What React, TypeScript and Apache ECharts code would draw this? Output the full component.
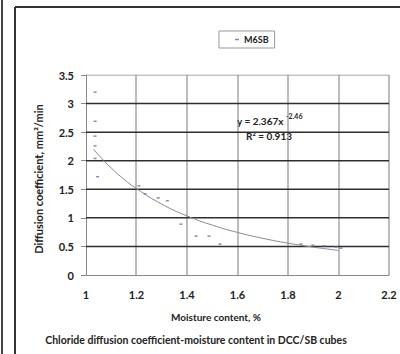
import React, { useEffect, useRef } from "react";
import * as echarts from "echarts";

const seriesName = "M6SB";
const moisture = [1.036, 1.036, 1.036, 1.036, 1.036, 1.046, 1.21, 1.234, 1.286, 1.322, 1.376, 1.436, 1.487, 1.531, 1.851, 1.898, 1.943, 1.99, 2.01];
const diffusion = [3.2, 2.69, 2.43, 2.26, 2.04, 1.72, 1.56, 1.42, 1.35, 1.3, 0.89, 0.68, 0.68, 0.54, 0.54, 0.52, 0.51, 0.49, 0.47];
const trendX = [1.03, 1.05, 1.1, 1.15, 1.2, 1.3, 1.4, 1.5, 1.6, 1.7, 1.8, 1.9, 2.0];
const trendY = [2.2, 2.099, 1.872, 1.678, 1.511, 1.241, 1.034, 0.873, 0.745, 0.642, 0.557, 0.488, 0.43];
const xTicks = [1, 1.2, 1.4, 1.6, 1.8, 2, 2.2];
const yTicks = [0, 0.5, 1, 1.5, 2, 2.5, 3, 3.5];
const equationText = "y = 2.367x";
const exponentText = "-2.46";
const r2Text = "R\u00b2 = 0.913";
const xTitle = "Moisture content, %";
const yTitle = "Diffusion coefficient, mm\u00b2/min";
const caption = "Chloride diffusion coefficient-moisture content in DCC/SB cubes";

const FONT = "Lato";

export default function App() {
  const ref = useRef<HTMLDivElement>(null);
  useEffect(() => {
    document.body.style.margin = "0";
    const chart = echarts.init(ref.current!, null, { renderer: "svg" });
    const pts = moisture.map((x, i) => [x, diffusion[i]]);
    const trend = trendX.map((x, i) => [x, trendY[i]]);
    const xMin = xTicks[0];
    const xMax = xTicks[xTicks.length - 1];
    const yMin = yTicks[0];
    const yMax = yTicks[yTicks.length - 1];
    const hSeries = yTicks.slice(1).map((v) => ({
      type: "line",
      data: [[xMin, v], [xMax, v]],
      symbol: "none",
      silent: true,
      z: 1,
      lineStyle: { color: v === yMax ? "#8a8a8a" : "#2e2e2e", width: v === yMax ? 1 : 1.5 },
    }));
    const vSeries = {
      type: "custom",
      silent: true,
      z: 1,
      clip: false,
      data: xTicks.slice(1).map((v) => [v, yMin]),
      renderItem: (params: any, api: any) => {
        const x = api.value(0);
        const top = api.coord([x, yMax]);
        const bottom = api.coord([x, yMin]);
        return {
          type: "rect",
          shape: { x: Math.round(top[0]) - 0.5, y: top[1], width: 1, height: bottom[1] - top[1] },
          style: { fill: "#7a7a7a" },
        };
      },
    };
    chart.setOption({
      animation: false,
      backgroundColor: "#ffffff",
      textStyle: { fontFamily: FONT },
      grid: { left: 86, right: 11, top: 75, bottom: 79 },
      legend: {
        left: 219,
        top: 31,
        padding: [4, 6, 4, 16],
        itemGap: 4,
        borderColor: "#999",
        borderWidth: 1,
        itemWidth: 4,
        itemHeight: 1.5,
        textStyle: { fontFamily: FONT, fontSize: 9, fontWeight: "bold", color: "#222" },
        data: [{ name: seriesName, icon: "rect" }],
      },
      xAxis: {
        type: "value",
        min: xMin,
        max: xMax,
        interval: 0.2,
        axisLine: { show: true, onZero: false, lineStyle: { color: "#888", width: 1 } },
        axisTick: { show: false },
        axisLabel: {
          margin: 14,
          fontFamily: FONT,
          fontSize: 11,
          fontWeight: "bold",
          color: "#222",
          formatter: (v: number) => String(Math.round(v * 10) / 10),
        },
        splitLine: { show: false },
      },
      yAxis: {
        type: "value",
        min: yMin,
        max: yMax,
        interval: 0.5,
        axisLine: { show: true, lineStyle: { color: "#888", width: 1 } },
        axisTick: { show: true, inside: false, length: 5, lineStyle: { color: "#888" } },
        axisLabel: {
          margin: 12,
          fontFamily: FONT,
          fontSize: 11,
          fontWeight: "bold",
          color: "#222",
        },
        splitLine: { show: false },
      },
      series: [
        vSeries,
        ...hSeries,
        {
          name: "trend",
          type: "line",
          data: trend,
          smooth: true,
          symbol: "none",
          lineStyle: { color: "#8a8a8a", width: 1 },
          silent: true,
          z: 2,
        },
        {
          name: seriesName,
          type: "scatter",
          data: pts,
          symbol: "rect",
          symbolSize: [3, 1.5],
          itemStyle: { color: "#5b6fae" },
          z: 3,
        },
      ],
      graphic: [
        { type: "line", shape: { x1: 2, y1: 0, x2: 2, y2: 354 }, style: { stroke: "#444", lineWidth: 2 } },
        { type: "line", shape: { x1: 15, y1: 7, x2: 15, y2: 354 }, style: { stroke: "#333", lineWidth: 2 } },
        { type: "line", shape: { x1: 15, y1: 7, x2: 400, y2: 7 }, style: { stroke: "#333", lineWidth: 2 } },
        {
          type: "text",
          x: 38,
          y: 179,
          rotation: Math.PI / 2,
          style: { text: yTitle, fontFamily: FONT, fontSize: 11, fontWeight: "bold", fill: "#222", align: "center", verticalAlign: "middle" },
        },
        {
          type: "text",
          x: 237,
          y: 121,
          style: { text: equationText, fontFamily: FONT, fontSize: 10, fontWeight: "bold", fill: "#222", verticalAlign: "middle" },
        },
        {
          type: "text",
          x: 286,
          y: 116,
          style: { text: exponentText, fontFamily: FONT, fontSize: 7, fontWeight: "bold", fill: "#222", verticalAlign: "middle" },
        },
        {
          type: "text",
          x: 246,
          y: 136,
          style: { text: r2Text, fontFamily: FONT, fontSize: 10, fontWeight: "bold", fill: "#222", verticalAlign: "middle" },
        },
        {
          type: "text",
          x: 216,
          y: 317,
          style: { text: xTitle, fontFamily: FONT, fontSize: 10, fontWeight: "bold", fill: "#222", align: "center", verticalAlign: "middle" },
        },
        {
          type: "text",
          x: 196,
          y: 340,
          style: { text: caption, fontFamily: FONT, fontSize: 10.5, fontWeight: "bold", fill: "#222", align: "center", verticalAlign: "middle" },
        },
      ],
    });
    return () => chart.dispose();
  }, []);
  return <div ref={ref} style={{ width: 400, height: 354 }} />;
}
